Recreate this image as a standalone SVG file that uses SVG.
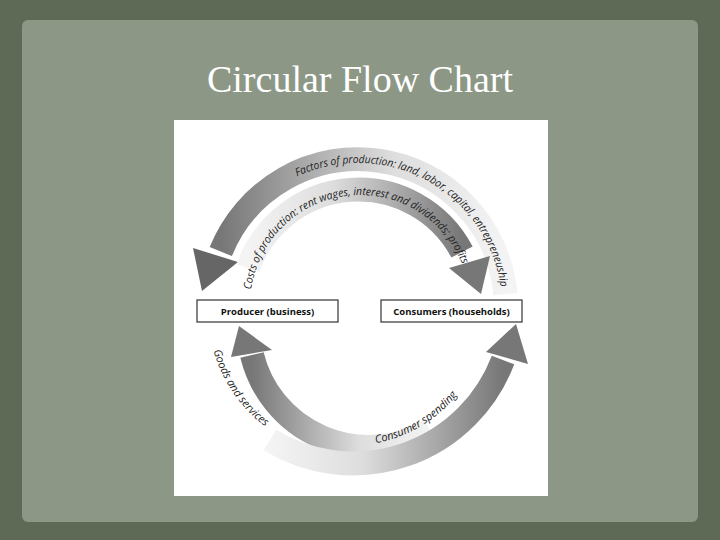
<svg xmlns="http://www.w3.org/2000/svg" width="720" height="540" viewBox="0 0 720 540">
<defs>
<style>
.box{fill:#fff;stroke:#333;stroke-width:1.2}
.lbl{font-family:"Open Sans","DejaVu Sans",sans-serif;font-weight:bold;font-size:9.5px;fill:#111;text-anchor:middle}
.arc{font-family:"Open Sans","DejaVu Sans",sans-serif;font-style:italic;font-size:11px;fill:#222}
.band{fill:none;stroke-width:24}
</style>
<linearGradient id="gL" x1="0" y1="0" x2="1" y2="0"><stop offset="0" stop-color="#777"/><stop offset="0.6" stop-color="#ddd"/><stop offset="1" stop-color="#f4f4f4"/></linearGradient>
<linearGradient id="gR" x1="0" y1="0" x2="1" y2="0"><stop offset="0" stop-color="#f4f4f4"/><stop offset="0.4" stop-color="#ddd"/><stop offset="1" stop-color="#777"/></linearGradient>
<path id="pF" d="M 297.1 176.5 A 144 144 0 0 1 500.6 287"/>
<path id="pC" d="M 251.1 289.7 A 110 110 0 0 1 462 263.8"/>
<path id="pG" d="M 212 345 A 145 145 0 0 0 270 430"/>
<path id="pS" d="M 330 444 A 138 138 0 0 0 480 355"/>
</defs>
<rect width="720" height="540" fill="#5e6a55"/>
<rect x="22" y="20" width="676" height="502" rx="6" fill="#8c9786"/>
<text x="360" y="92" text-anchor="middle" font-family="Liberation Serif,serif" font-size="38" fill="#fff">Circular Flow Chart</text>
<rect x="174" y="120" width="374" height="376" fill="#fff"/>
<g id="connectors">
<path class="band" stroke="url(#gL)" d="M 505.4 294.1 A 148 148 0 0 0 220.8 251.6"/>
<polygon points="193,248 238,262 202,291" fill="#666"/>
<path class="band" stroke="url(#gR)" d="M 248 268 A 117 117 0 0 1 462 252"/>
<polygon points="449,268 490,256 481,294" fill="#777"/>
<path class="band" stroke="url(#gL)" d="M 430 430 A 120 120 0 0 1 252 355"/>
<polygon points="231,357 272,350 239,326" fill="#777"/>
<path class="band" stroke="url(#gR)" d="M 270 440 A 160 160 0 0 0 503 360"/>
<polygon points="486,352 528,364 516,324" fill="#777"/>
</g>
<g id="texts">
<text class="arc"><textPath href="#pF" textLength="269" lengthAdjust="spacingAndGlyphs">Factors of production: land, labor, capital, entrepreneuship</textPath></text>
<text class="arc"><textPath href="#pC" textLength="288" lengthAdjust="spacingAndGlyphs">Costs of production: rent wages, interest and dividends; profits</textPath></text>
<text class="arc"><textPath href="#pG" startOffset="50%" text-anchor="middle">Goods and services</textPath></text>
<text class="arc"><textPath href="#pS" startOffset="50%" text-anchor="middle">Consumer spending</textPath></text>
</g>
<g id="producer"><rect class="box" x="197" y="300" width="141" height="22"/><text class="lbl" x="267.5" y="314.5">Producer (business)</text></g>
<g id="consumers"><rect class="box" x="381" y="300" width="141" height="22"/><text class="lbl" x="451.5" y="314.5">Consumers (households)</text></g>
</svg>
